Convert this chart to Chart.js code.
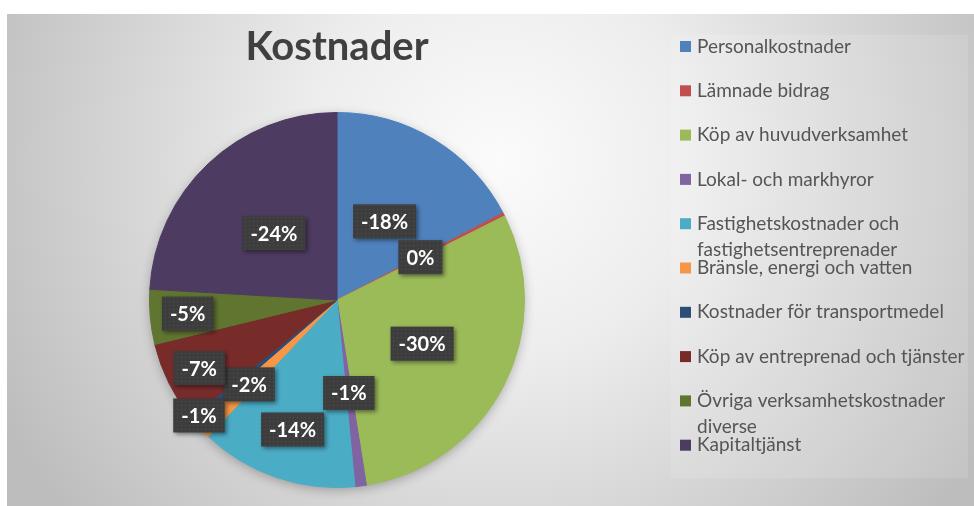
<!DOCTYPE html>
<html>
<head>
<meta charset="utf-8">
<script src="https://cdn.jsdelivr.net/npm/chart.js@4.4.0/dist/chart.umd.min.js"></script>
<style>
  html, body { margin: 0; padding: 0; background: #fff; }
</style>
</head>
<body>
<canvas id="kostnader" width="974" height="506"></canvas>
<script>
let kostnaderCanvas = document.getElementById("kostnader");

const kategorier = [
  'Personalkostnader',
  'Lämnade bidrag',
  'Köp av huvudverksamhet',
  'Lokal- och markhyror',
  ['Fastighetskostnader och', 'fastighetsentreprenader'],
  'Bränsle, energi och vatten',
  'Kostnader för transportmedel',
  'Köp av entreprenad och tjänster',
  ['Övriga verksamhetskostnader', 'diverse'],
  'Kapitaltjänst'
];
const andelar = [-0.176, -0.003, -0.304, -0.01, -0.138, -0.016, -0.006, -0.071, -0.048, -0.245];
const farger = ['#4F81BD', '#C0504D', '#9BBB59', '#8064A2', '#4BACC6', '#F79646', '#2C4D75', '#772C2A', '#5F7530', '#4D3B62'];

// hur långt ut (andel av radien) Excel lade varje etikett
const etikettAvstand = [0.49, 0.5, 0.51, 0.5, 0.73, 0.65, 0.96, 0.82, 0.8, 0.49];

// prickigt mönster för etikettrutorna
let monsterCanvas = document.createElement('canvas');
monsterCanvas.width = 4;
monsterCanvas.height = 4;
let mctx = monsterCanvas.getContext('2d');
mctx.fillStyle = '#3d3d3d';
mctx.fillRect(0, 0, 4, 4);
mctx.fillStyle = '#525252';
mctx.fillRect(1, 1, 1, 1);

const bakgrund = {
  id: 'bakgrund',
  beforeDraw(chart) {
    const c = chart.ctx;
    c.save();
    c.fillStyle = '#fff';
    c.fillRect(0, 0, chart.width, chart.height);
    const g = c.createRadialGradient(500, 160, 0, 500, 160, 560);
    g.addColorStop(0, '#fbfbfb');
    g.addColorStop(0.35, '#ededed');
    g.addColorStop(1, '#bdbdbd');
    c.fillStyle = g;
    c.fillRect(7, 14, chart.width - 7, chart.height - 14);
    c.fillStyle = 'rgba(255,255,255,0.12)';
    c.fillRect(671, 35, 297, 443);
    c.restore();
  },
  beforeDatasetsDraw(chart) {
    // mjuk skugga under hela pajen
    const arc = chart.getDatasetMeta(0).data[0];
    if (!arc) return;
    const c = chart.ctx;
    c.save();
    c.shadowColor = 'rgba(0,0,0,0.3)';
    c.shadowBlur = 12;
    c.shadowOffsetY = 3;
    c.fillStyle = '#999';
    c.beginPath();
    c.arc(arc.x, arc.y, arc.outerRadius - 1, 0, Math.PI * 2);
    c.fill();
    c.restore();
  }
};

const etiketter = {
  id: 'etiketter',
  afterDatasetsDraw(chart) {
    const c = chart.ctx;
    const monster = c.createPattern(monsterCanvas, 'repeat');
    c.save();
    c.font = 'bold 20px Lato';
    c.textAlign = 'center';
    c.textBaseline = 'middle';
    chart.getDatasetMeta(0).data.forEach((arc, i) => {
      const p = arc.getProps(['x', 'y', 'startAngle', 'endAngle', 'outerRadius']);
      const mitt = (p.startAngle + p.endAngle) / 2;
      const r = p.outerRadius * etikettAvstand[i];
      const x = p.x + Math.cos(mitt) * r;
      const y = p.y + Math.sin(mitt) * r;
      const text = Math.round(andelar[i] * 100) + '%';
      const w = c.measureText(text).width + 16;
      const h = 34;
      c.shadowColor = 'rgba(0,0,0,0.45)';
      c.shadowBlur = 4;
      c.shadowOffsetX = 2;
      c.shadowOffsetY = 2;
      c.fillStyle = monster;
      c.fillRect(x - w / 2, y - h / 2, w, h);
      c.shadowColor = 'transparent';
      c.fillStyle = '#fff';
      c.fillText(text, x, y + 1);
    });
    c.restore();
  }
};

const egenLegend = {
  id: 'egenLegend',
  afterDraw(chart) {
    const c = chart.ctx;
    c.save();
    c.font = '19px Lato';
    c.textBaseline = 'middle';
    c.textAlign = 'left';
    chart.data.labels.forEach((lab, i) => {
      const y = 46.5 + i * 44.3;
      c.fillStyle = chart.data.datasets[0].backgroundColor[i];
      c.fillRect(680, y - 5.5, 11, 11);
      c.fillStyle = '#555555';
      [].concat(lab).forEach((rad, j) => c.fillText(rad, 697, y + j * 26));
    });
    c.restore();
  }
};

const dataKostnader = {
  labels: kategorier,
  datasets: [
    {
      data: andelar,
      backgroundColor: farger,
      borderColor: farger,
      borderWidth: 1,
    }
  ]
};

const configKostnader = {
  type: 'pie',
  data: dataKostnader,
  options: {
    responsive: false,
    animation: false,
    devicePixelRatio: 1,
    layout: {
      padding: { left: 149, right: 449, top: 0, bottom: 18 }
    },
    plugins: {
      legend: { display: false },
      tooltip: { enabled: false },
      title: {
        display: true,
        text: 'Kostnader',
        color: '#404040',
        font: { family: 'Lato', size: 40, weight: 'bold' },
        padding: { top: 23, bottom: 41 }
      }
    }
  },
  plugins: [bakgrund, etiketter, egenLegend]
};

let kostnaderGraph = new Chart(kostnaderCanvas, configKostnader);
</script>
</body>
</html>
